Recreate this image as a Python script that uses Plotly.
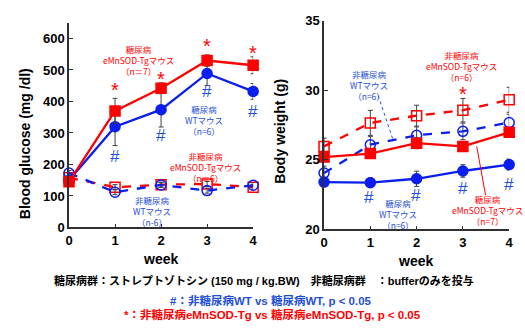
import plotly.graph_objects as go

W, H = 525, 329

weeks = [0, 1, 2, 3, 4]
week_labels = ["0", "1", "2", "3", "4"]

# Blood glucose (mg/dl)
glu_dm_tg = [145, 370, 442, 530, 515]
glu_dm_tg_err = [10, 40, 17, 18, 27]
glu_dm_wt = [150, 320, 374, 489, 432]
glu_dm_wt_err = [10, 60, 55, 38, 25]
glu_nd_tg = [158, 128, 136, 138, 128]
glu_nd_tg_err = [8, 8, 8, 8, 8]
glu_nd_wt = [173, 112, 135, 117, 134]
glu_nd_wt_err = [8, 8, 8, 8, 8]

# Body weight (g)
bw_dm_tg = [25.2, 25.45, 26.2, 25.97, 26.98]
bw_dm_tg_err = [0.3, 0.35, 0.4, 0.3, 0.35]
bw_dm_wt = [23.4, 23.36, 23.64, 24.2, 24.66]
bw_dm_wt_err = [0.3, 0.35, 0.55, 0.45, 0.4]
bw_nd_tg = [25.97, 27.66, 28.18, 28.57, 29.32]
bw_nd_tg_err = [0.6, 0.9, 0.75, 0.85, 0.9]
bw_nd_wt = [24.05, 26.09, 26.77, 27.05, 27.68]
bw_nd_wt_err = [0.5, 0.6, 0.6, 0.6, 0.6]

RED = "#ff0000"
BLUE = "#0a1ef0"
TBLUE = "#1f4fd6"
ERR = "#404040"
AX = "#303030"
JP = "Noto Sans CJK JP"
JPL = "Liberation Sans, Noto Sans CJK JP"
LAT = "Liberation Sans"


def P(x, y):
    return x / W, 1 - y / H


fig = go.Figure()


def add(xa, ya, y, e, color, symbol, dash):
    fig.add_trace(go.Scatter(
        x=weeks, y=y, xaxis=xa, yaxis=ya, mode="lines+markers",
        line=dict(color=color, width=2.3, dash=dash),
        marker=dict(symbol=symbol, size=10, color=color,
                    line=dict(color=color, width=1.5)),
        error_y=dict(type="data", array=e, visible=True, color=ERR,
                     thickness=1, width=2.5),
        cliponaxis=False, showlegend=False))


add("x", "y", glu_nd_tg, glu_nd_tg_err, RED, "square-open", "dash")
add("x", "y", glu_nd_wt, glu_nd_wt_err, BLUE, "circle-open", "dash")
add("x", "y", glu_dm_wt, glu_dm_wt_err, BLUE, "circle", "solid")
add("x", "y", glu_dm_tg, glu_dm_tg_err, RED, "square", "solid")

add("x2", "y2", bw_nd_tg, bw_nd_tg_err, RED, "square-open", "dash")
add("x2", "y2", bw_nd_wt, bw_nd_wt_err, BLUE, "circle-open", "dash")
add("x2", "y2", bw_dm_wt, bw_dm_wt_err, BLUE, "circle", "solid")
add("x2", "y2", bw_dm_tg, bw_dm_tg_err, RED, "square", "solid")

axcommon = dict(showgrid=False, zeroline=False, showline=True, linecolor=AX,
                linewidth=1.5, ticks="inside", ticklen=4, tickcolor=AX,
                tickfont=dict(family=LAT, size=13, color="black", weight="bold"))

fig.update_layout(
    width=W, height=H, margin=dict(l=0, r=0, t=0, b=0),
    paper_bgcolor="white", plot_bgcolor="white",
    xaxis=dict(domain=[66 / W, 253 / W], range=[0, 4], tickvals=weeks,
               ticktext=week_labels, anchor="y", **axcommon),
    yaxis=dict(domain=[1 - 231 / H, 1 - 16.5 / H], range=[0, 650],
               tickvals=[0, 100, 200, 300, 400, 500, 600], anchor="x",
               **axcommon),
    xaxis2=dict(domain=[325 / W, 513 / W], range=[0, 4], tickvals=weeks,
                ticktext=week_labels, anchor="y2", **axcommon),
    yaxis2=dict(domain=[1 - 233 / H, 1 - 14.5 / H], range=[20, 35],
                tickvals=[20, 25, 30, 35], anchor="x2", **axcommon),
)

ann = []


def T(x, y, text, color="black", size=8.5, family=JP, bold=False, angle=0):
    px, py = P(x, y)
    ann.append(dict(x=px, y=py, xref="paper", yref="paper", text=text,
                    showarrow=False, align="center", xanchor="center",
                    yanchor="middle", textangle=angle,
                    font=dict(family=family, size=size, color=color,
                              weight="bold" if bold else "normal")))


# axis titles
T(22, 143, "Blood glucose (mg /dl)", size=14, family=LAT, bold=True, angle=-90)
T(280, 130, "Body weight (g)", size=14, family=LAT, bold=True, angle=-90)
T(159, 264, "week", size=14, family=LAT, bold=True)
T(418, 266, "week", size=14, family=LAT, bold=True)

# left panel group labels
T(137, 56, "糖尿病<br>eMnSOD-Tgマウス<br>（n＝7）", RED)
T(203, 118, "糖尿病<br>WTマウス<br>（n=6）", TBLUE)
T(205, 168, "非糖尿病<br>eMnSOD-Tgマウス<br>（n＝6）", RED)
T(150, 214, "非糖尿病<br>WTマウス<br>（n-6）", TBLUE)

# left significance marks
for x, y in [(112.5, 87), (159.5, 75), (206, 41), (252.5, 48)]:
    T(x, y, "*", RED, size=20, family=LAT)
for x, y in [(112.5, 157), (159.5, 135), (206, 89), (252.5, 110)]:
    T(x, y, "#", TBLUE, size=17, family=LAT)

# right panel group labels
T(465, 62, "非糖尿病<br>eMnSOD-Tgマウス<br>（n=6）", RED)
T(371, 82, "非糖尿病<br>WTマウス<br>（n=6）", TBLUE)
T(400, 217, "糖尿病<br>WTマウス<br>（n=6）", TBLUE)
T(491, 213, "糖尿病<br>eMnSOD-Tgマウス<br>（n=7）", RED)

T(466, 91, "*", RED, size=20, family=LAT)
for x, y in [(371, 200), (418, 197), (466, 190), (513, 186)]:
    T(x, y, "#", TBLUE, size=17, family=LAT)

# footnotes
T(264, 287, "糖尿病群：ストレプトゾトシン (150 mg / kg.BW)　非糖尿病群　：bufferのみを投与",
  "black", size=11, family=JPL, bold=True)
T(271, 307, "#：非糖尿病WT vs 糖尿病WT, p < 0.05", TBLUE, size=11.5, family=JPL, bold=True)
T(273, 322, "*：非糖尿病eMnSOD-Tg vs 糖尿病eMnSOD-Tg, p < 0.05", RED, size=11.5,
  family=JPL, bold=True)

fig.update_layout(annotations=ann)

# leader lines
x0, y0 = P(380, 93)
x1, y1 = P(395, 139)
fig.add_shape(type="line", xref="paper", yref="paper", x0=x0, y0=y0, x1=x1, y1=y1,
              line=dict(color=TBLUE, width=1, dash="dot"))
x0, y0 = P(480, 146)
x1, y1 = P(489, 197)
fig.add_shape(type="line", xref="paper", yref="paper", x0=x0, y0=y0, x1=x1, y1=y1,
              line=dict(color=RED, width=1))

fig.write_html("out.html", config={"displayModeBar": False},
               post_script="document.body.style.margin='0';"
                           "document.body.style.overflow='hidden';")
